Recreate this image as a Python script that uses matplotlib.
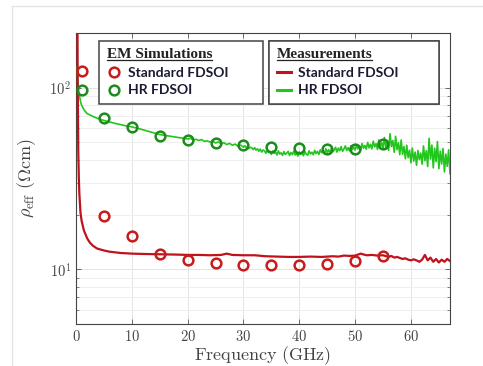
import matplotlib
matplotlib.use("Agg")
import matplotlib.pyplot as plt
from matplotlib.lines import Line2D
from matplotlib.ticker import FuncFormatter, FixedLocator
import numpy as np

plt.rcParams["mathtext.fontset"] = "cm"

# EM simulation points (GHz, Ohm*cm)
sim_freq = [1, 5, 10, 15, 20, 25, 30, 35, 40, 45, 50, 55]
sim_std = [123, 19.6, 15.2, 12.1, 11.3, 10.8, 10.6, 10.5, 10.5, 10.7, 11.1, 11.8]
sim_hr = [97, 67.8, 60.5, 54.0, 51.3, 49.8, 48.4, 47.2, 46.3, 45.8, 45.8, 49.2]

# Measured standard FDSOI
meas_std_freq = [0.2, 0.3, 0.4, 0.5, 0.6, 0.8, 1.0, 1.4, 2.0, 2.5, 3.0, 3.8, 5.0, 6.0,
                 8.0, 10, 12, 15, 18, 20, 22, 24, 26, 27, 28, 30, 32, 34, 36, 38, 40,
                 42, 44, 46, 47, 48, 49, 50, 51, 52, 53, 54, 55, 56, 56.5, 57, 57.5,
                 58, 58.5, 59, 59.5, 60, 60.5, 61, 61.5, 62, 62.5, 63, 63.5, 64, 64.5,
                 65, 65.5, 66, 66.5, 67]
meas_std = [600, 110, 45, 32, 26, 20.5, 18.5, 16.4, 14.8, 14.0, 13.5, 13.0, 12.7, 12.5,
            12.3, 12.2, 12.15, 12.1, 12.05, 12.0, 12.0, 11.95, 12.0, 12.2, 12.0, 11.95,
            11.95, 11.8, 11.75, 11.7, 11.7, 11.75, 11.7, 11.8, 11.75, 11.9, 11.85, 11.9,
            12.2, 11.95, 12.0, 11.9, 11.95, 11.7, 11.85, 11.6, 11.7, 11.55, 11.4, 11.5,
            11.3, 11.2, 11.35, 11.2, 11.0, 11.3, 12.0, 11.2, 11.6, 11.0, 11.4, 10.9,
            11.3, 11.0, 11.4, 11.1]

# Measured HR FDSOI, low band (0.2 - 30 GHz)
meas_hr_freq_lo = [0.2, 0.3, 0.5, 0.8, 1.0, 1.5, 2, 3, 4, 5, 6, 7, 8, 9, 10, 11, 12, 13,
                   14, 15, 16, 17, 18, 19, 20,
                   20.5, 21, 21.5, 22, 22.5, 23, 23.5, 24, 24.5, 25, 25.5, 26, 26.5, 27,
                   27.5, 28, 28.5, 29, 29.5, 30]
meas_hr_lo = [130, 110, 95, 84, 80, 75, 72, 69.5, 67.5, 66, 64.8, 63.6, 62.6, 61.6, 60.8,
              59.8, 58.6, 57.4, 56.2, 55.2, 54.6, 54.0, 53.4, 52.8, 52.2,
              52.6, 51.5, 52.0, 51.2, 51.8, 50.6, 51.0, 50.2, 50.7, 49.6, 50.3, 49.1,
              49.8, 48.6, 49.4, 48.2, 48.9, 47.6, 48.3, 47.0]

# Measured HR FDSOI, high band (30.25 - 67 GHz, 0.25 GHz sweep step)
meas_hr_freq_hi = np.arange(30.25, 67.001, 0.25)
meas_hr_hi = [
    47.9, 46.8, 47.5, 46.2,  47.0, 46.6, 45.6, 46.8,  45.3, 46.1, 44.7, 45.9,
    44.2, 45.4, 44.9, 43.6,  45.2, 43.9, 44.6, 42.9,  44.8, 43.5, 44.2, 42.6,
    44.9, 43.1, 43.8, 42.4,  44.5, 42.9, 43.6, 44.6,  42.3, 43.9, 42.8, 44.7,
    42.6, 43.4, 42.0, 44.3,  42.9, 43.7, 42.2, 44.6,  43.0, 42.5, 44.9, 43.2,
    44.1, 42.7, 45.2, 43.4,  44.6, 42.9, 45.5, 43.8,  44.8, 43.2, 46.1, 44.0,
    45.6, 43.6, 46.4, 44.4,  45.3, 47.0, 44.2, 46.5,  45.0, 47.4, 44.6, 46.0,
    47.8, 45.1, 46.7, 44.9,  47.9, 45.6, 47.2, 45.3,  48.6, 46.0, 47.5, 45.4,
    49.3, 46.4, 48.1, 45.8,  50.0, 46.6, 48.8, 46.0,  50.8, 47.2, 49.2, 45.7,
    51.6, 47.0, 49.9, 46.4,  53.2, 46.8, 50.5, 45.2,  55.8, 47.4, 51.2, 44.1,
    54.0, 45.6, 49.8, 42.8,  51.5, 43.0, 47.4, 40.6,  48.2, 41.2, 45.3, 38.6,
    46.5, 39.4, 44.2, 37.4,  45.1, 40.2, 43.6, 37.9,  47.8, 39.6, 45.0, 36.8,
    52.6, 40.5, 48.3, 36.2,  46.4, 39.1, 50.5, 35.8,  44.7, 38.0, 46.2, 34.4,
    43.1, 36.9, 45.5, 33.6,
]

x_ticks = [0, 10, 20, 30, 40, 50, 60]

RED_LINE = "#c0121c"
GREEN_LINE = "#22c61c"
RED_MARK = "#c81c1c"
GREEN_MARK = "#1c8c1c"
TEXT_DARK = "#1a1a33"

fig = plt.figure(figsize=(4.83, 3.66), dpi=100)
ax = fig.add_axes([0.1574, 0.1148, 0.7743, 0.7950])

meas_hr_freq = list(meas_hr_freq_lo) + list(meas_hr_freq_hi)
meas_hr = meas_hr_lo + meas_hr_hi
ax.plot(meas_hr_freq, meas_hr, color=GREEN_LINE, lw=1.2, zorder=3)
ax.plot(meas_std_freq, meas_std, color=RED_LINE, lw=1.6, zorder=4)
ax.plot(sim_freq, sim_std, linestyle="none", marker="o", ms=7, mfc="none",
        mec=RED_MARK, mew=1.8, zorder=5)
ax.plot(sim_freq, sim_hr, linestyle="none", marker="o", ms=7, mfc="none",
        mec=GREEN_MARK, mew=1.8, zorder=5)

ax.set_yscale("log")
ax.set_xlim(0, 67)
ax.set_ylim(5, 200)
ax.xaxis.set_major_locator(FixedLocator(x_ticks))
ax.xaxis.set_major_formatter(FuncFormatter(lambda v, p: r"$%d$" % v))
ax.yaxis.set_major_formatter(FuncFormatter(lambda v, p: r"$10^{%d}$" % round(np.log10(v))))
ax.yaxis.set_minor_formatter(FuncFormatter(lambda v, p: ""))

ax.grid(True, which="major", color="#e4e4e4", lw=0.7)
ax.grid(True, which="minor", axis="y", color="#ececec", lw=0.6)
ax.set_axisbelow(True)
ax.tick_params(which="both", direction="in", top=True, right=True,
               color="#555555", labelsize=10.5, labelcolor="#444444")
ax.tick_params(which="major", length=3.5, width=0.6)
ax.tick_params(which="minor", length=2, width=0.5)
for s in ax.spines.values():
    s.set_color("#444444")
    s.set_linewidth(0.8)

ax.set_xlabel(r"$\mathrm{Frequency\ (GHz)}$", fontsize=13, color="#444444", labelpad=0)
ax.set_ylabel(r"$\rho_{\mathrm{eff}}\ (\Omega\mathrm{cm})$", fontsize=13, color="#444444",
              labelpad=8)

entry_font = {"family": "Lato", "weight": "bold", "size": 10}
title_font = {"family": "Liberation Serif", "weight": "bold", "size": 11}

sim_handles = [
    Line2D([], [], linestyle="none", marker="o", ms=7, mfc="none", mec=RED_MARK, mew=1.8),
    Line2D([], [], linestyle="none", marker="o", ms=7, mfc="none", mec=GREEN_MARK, mew=1.8),
]
meas_handles = [
    Line2D([], [], color=RED_LINE, lw=2.2),
    Line2D([], [], color=GREEN_LINE, lw=2.2),
]
labels = ["Standard FDSOI", "HR FDSOI"]

legends = []
for handles, title, x0, w in [(sim_handles, "EM Simulations", 0.0615, 0.4385),
                              (meas_handles, "Measurements", 0.516, 0.4546)]:
    leg = ax.legend(handles, labels, title=title, loc="upper left",
                    bbox_to_anchor=(x0, 0.9735, w, 0), mode="expand",
                    borderaxespad=0, prop=entry_font, title_fontproperties=title_font,
                    fancybox=False, framealpha=1, edgecolor="#444444",
                    handlelength=1.0, handletextpad=0.55, labelspacing=0.4,
                    borderpad=0.55)
    leg.set_alignment("left")
    leg.get_frame().set_linewidth(1.1)
    for t in leg.get_texts():
        t.set_color(TEXT_DARK)
    leg.get_title().set_color("#222222")
    ax.add_artist(leg)
    legends.append(leg)

# Underline the legend titles
fig.canvas.draw()
renderer = fig.canvas.get_renderer()
W, H = fig.bbox.width, fig.bbox.height
for leg in legends:
    bb = leg.get_title().get_window_extent(renderer)
    yline = (bb.y0 + 1.5) / H
    fig.add_artist(Line2D([bb.x0 / W, bb.x1 / W], [yline, yline],
                          color="#222222", lw=0.9, transform=fig.transFigure))

# Light page frame
fig.add_artist(Line2D([12 / 483, 12 / 483], [0, 1 - 6 / 366], color="#e2e2e2", lw=0.9,
                      transform=fig.transFigure))
fig.add_artist(Line2D([12 / 483, 1], [1 - 6 / 366, 1 - 6 / 366], color="#e2e2e2", lw=0.9,
                      transform=fig.transFigure))

fig.savefig("out.png", dpi=100)
